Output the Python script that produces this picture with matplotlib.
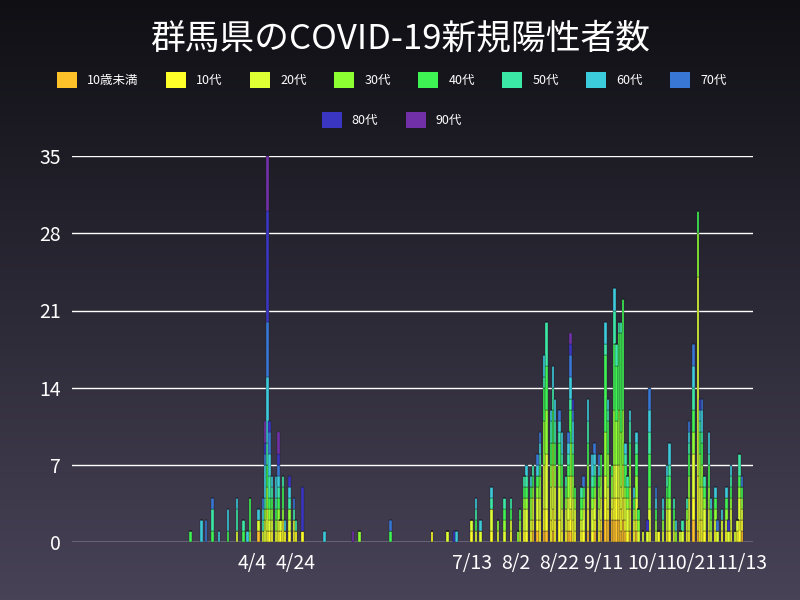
import numpy as np
import pandas as pd
import matplotlib
matplotlib.use("Agg")
import matplotlib.pyplot as plt
from matplotlib.patches import Patch

plt.rcParams['font.family'] = ['Noto Sans CJK JP', 'DejaVu Sans']

ages = ['10歳未満', '10代', '20代', '30代', '40代', '50代', '60代', '70代', '80代', '90代']
colors = ['#ffc12a', '#ffff2a', '#ddff33', '#8cff33', '#3ff254', '#3ce8a6',
          '#3ccbdb', '#3877d4', '#3a36c2', '#7230a8']

# each day: one digit per case, digit = age group index (0 = 10歳未満 ... 9 = 90代)
cases = {
    '03-07': '4', '03-12': '66', '03-14': '77', '03-17': '4557', '03-20': '6',
    '03-24': '466', '03-28': '2556', '03-31': '45', '04-02': '6', '04-03': '3444',
    '04-07': '026', '04-09': '2567', '04-10': '22356667899',
    '04-11': '122334455' + '666666' + '77777' + '8888888888' + '99999',
    '04-12': '12345566778', '04-13': '123456', '04-15': '234566',
    '04-16': '1234567899', '04-17': '12', '04-18': '113445', '04-19': '16',
    '04-21': '123568', '04-23': '1257', '04-24': '15', '04-27': '18888',
    '05-07': '6', '05-20': '9', '05-23': '3', '06-06': '47', '06-25': '1',
    '07-02': '2', '07-05': '8', '07-06': '6',
    '07-13': '12', '07-15': '2456', '07-17': '26', '07-22': '12256', '07-25': '23',
    '07-28': '2345', '07-31': '1245', '08-03': '3', '08-04': '234', '08-06': '122345',
    '08-07': '1223456', '08-09': '123346', '08-10': '0122345', '08-12': '01223467',
    '08-13': '1122334567', '08-15': '01122223333444566',
    '08-16': '01122222333344445555', '08-18': '112223344556',
    '08-19': '0112222334445566', '08-20': '1122233445566', '08-22': '112223344567',
    '08-23': '1223344566', '08-25': '122345', '08-26': '0122334567',
    '08-27': '0112223334445667789', '08-28': '1122334456678', '08-29': '12234',
    '09-01': '12345', '09-02': '122347', '09-04': '0112233445566', '09-06': '12234566',
    '09-07': '012234567', '09-09': '12233467', '09-10': '01223344',
    '09-12': '00112233334444444566', '09-13': '0012233344456', '09-15': '0012334',
    '09-16': '00112223333344444455566', '09-17': '001122233334444455',
    '09-18': '00112223333344444445', '09-19': '01122333334444444445',
    '09-20': '0011222333334444444444', '09-21': '012234456', '09-22': '122345',
    '09-23': '011223344556', '09-25': '12346', '09-26': '0122334456', '09-27': '234',
    '09-29': '2', '10-01': '28', '10-02': '12233444556677', '10-05': '23467',
    '10-06': '1', '10-08': '2356', '10-10': '1223456', '10-11': '122344566',
    '10-13': '2345', '10-14': '36', '10-16': '2', '10-17': '25', '10-19': '1235',
    '10-20': '12223344567', '10-22': '001122223344556677',
    '10-24': '0' + '11111' + '222222222222222222' + '3333' + '44',
    '10-25': '1122233344568', '10-26': '1122233445667', '10-27': '122345',
    '10-29': '1223344566', '10-30': '2346', '11-01': '12346', '11-02': '27',
    '11-04': '126', '11-06': '12346', '11-07': '28', '11-08': '1223456',
    '11-10': '2', '11-11': '12', '11-12': '11223455', '11-13': '012347',
}

dates = pd.to_datetime(['2020-' + k for k in cases])
counts = np.array([[v.count(str(i)) for i in range(10)] for v in cases.values()])

fig = plt.figure(figsize=(8, 6), dpi=100)
bg = fig.add_axes([0, 0, 1, 1], zorder=-1)
grad = np.linspace(0, 1, 256).reshape(-1, 1)
top, bot = np.array([0.06, 0.06, 0.08]), np.array([0.28, 0.26, 0.34])
img = top + (bot - top) * grad[:, :, None]
bg.imshow(img, aspect='auto', extent=[0, 1, 0, 1], origin='upper')
bg.axis('off')

ax = fig.add_axes([0.09, 0.0967, 0.851, 0.643])
ax.patch.set_alpha(0)
bottom = np.zeros(len(dates))
for i in range(10):
    ax.bar(dates, counts[:, i], bottom=bottom, width=1.1, color=colors[i],
           edgecolor='#1a1a22', linewidth=0.25, zorder=3)
    bottom += counts[:, i]

ax.set_ylim(0, 35)
ax.set_yticks(range(0, 36, 7))
ax.set_xlim(pd.Timestamp('2020-01-13'), pd.Timestamp('2020-11-18'))
ticks = pd.to_datetime(['2020-04-04', '2020-04-24', '2020-07-13', '2020-08-02',
                        '2020-08-22', '2020-09-11', '2020-10-01', '2020-10-21', '2020-11-13'])
ax.set_xticks(ticks)
ax.set_xticklabels([f'{d.month}/{d.day}' for d in ticks])
ax.grid(axis='y', color='white', linewidth=1, zorder=1)
for s in ax.spines.values():
    s.set_visible(False)
ax.tick_params(colors='white', labelsize=14, length=0, pad=8)

fig.text(0.5, 0.935, '群馬県のCOVID-19新規陽性者数', color='white', fontsize=25,
         ha='center', va='center')

handles = [Patch(facecolor=c, label=a) for a, c in zip(ages, colors)]
fig.legend(handles=handles[:8], loc='center', bbox_to_anchor=(0.49, 0.867),
           ncol=8, frameon=False, fontsize=9, labelcolor='white',
           handlelength=1.6, handleheight=1.6, columnspacing=2.2, handletextpad=0.8)
fig.legend(handles=handles[8:], loc='center', bbox_to_anchor=(0.49, 0.8),
           ncol=2, frameon=False, fontsize=9, labelcolor='white',
           handlelength=1.6, handleheight=1.6, columnspacing=2.2, handletextpad=0.8)

fig.savefig('out.png', dpi=100)
